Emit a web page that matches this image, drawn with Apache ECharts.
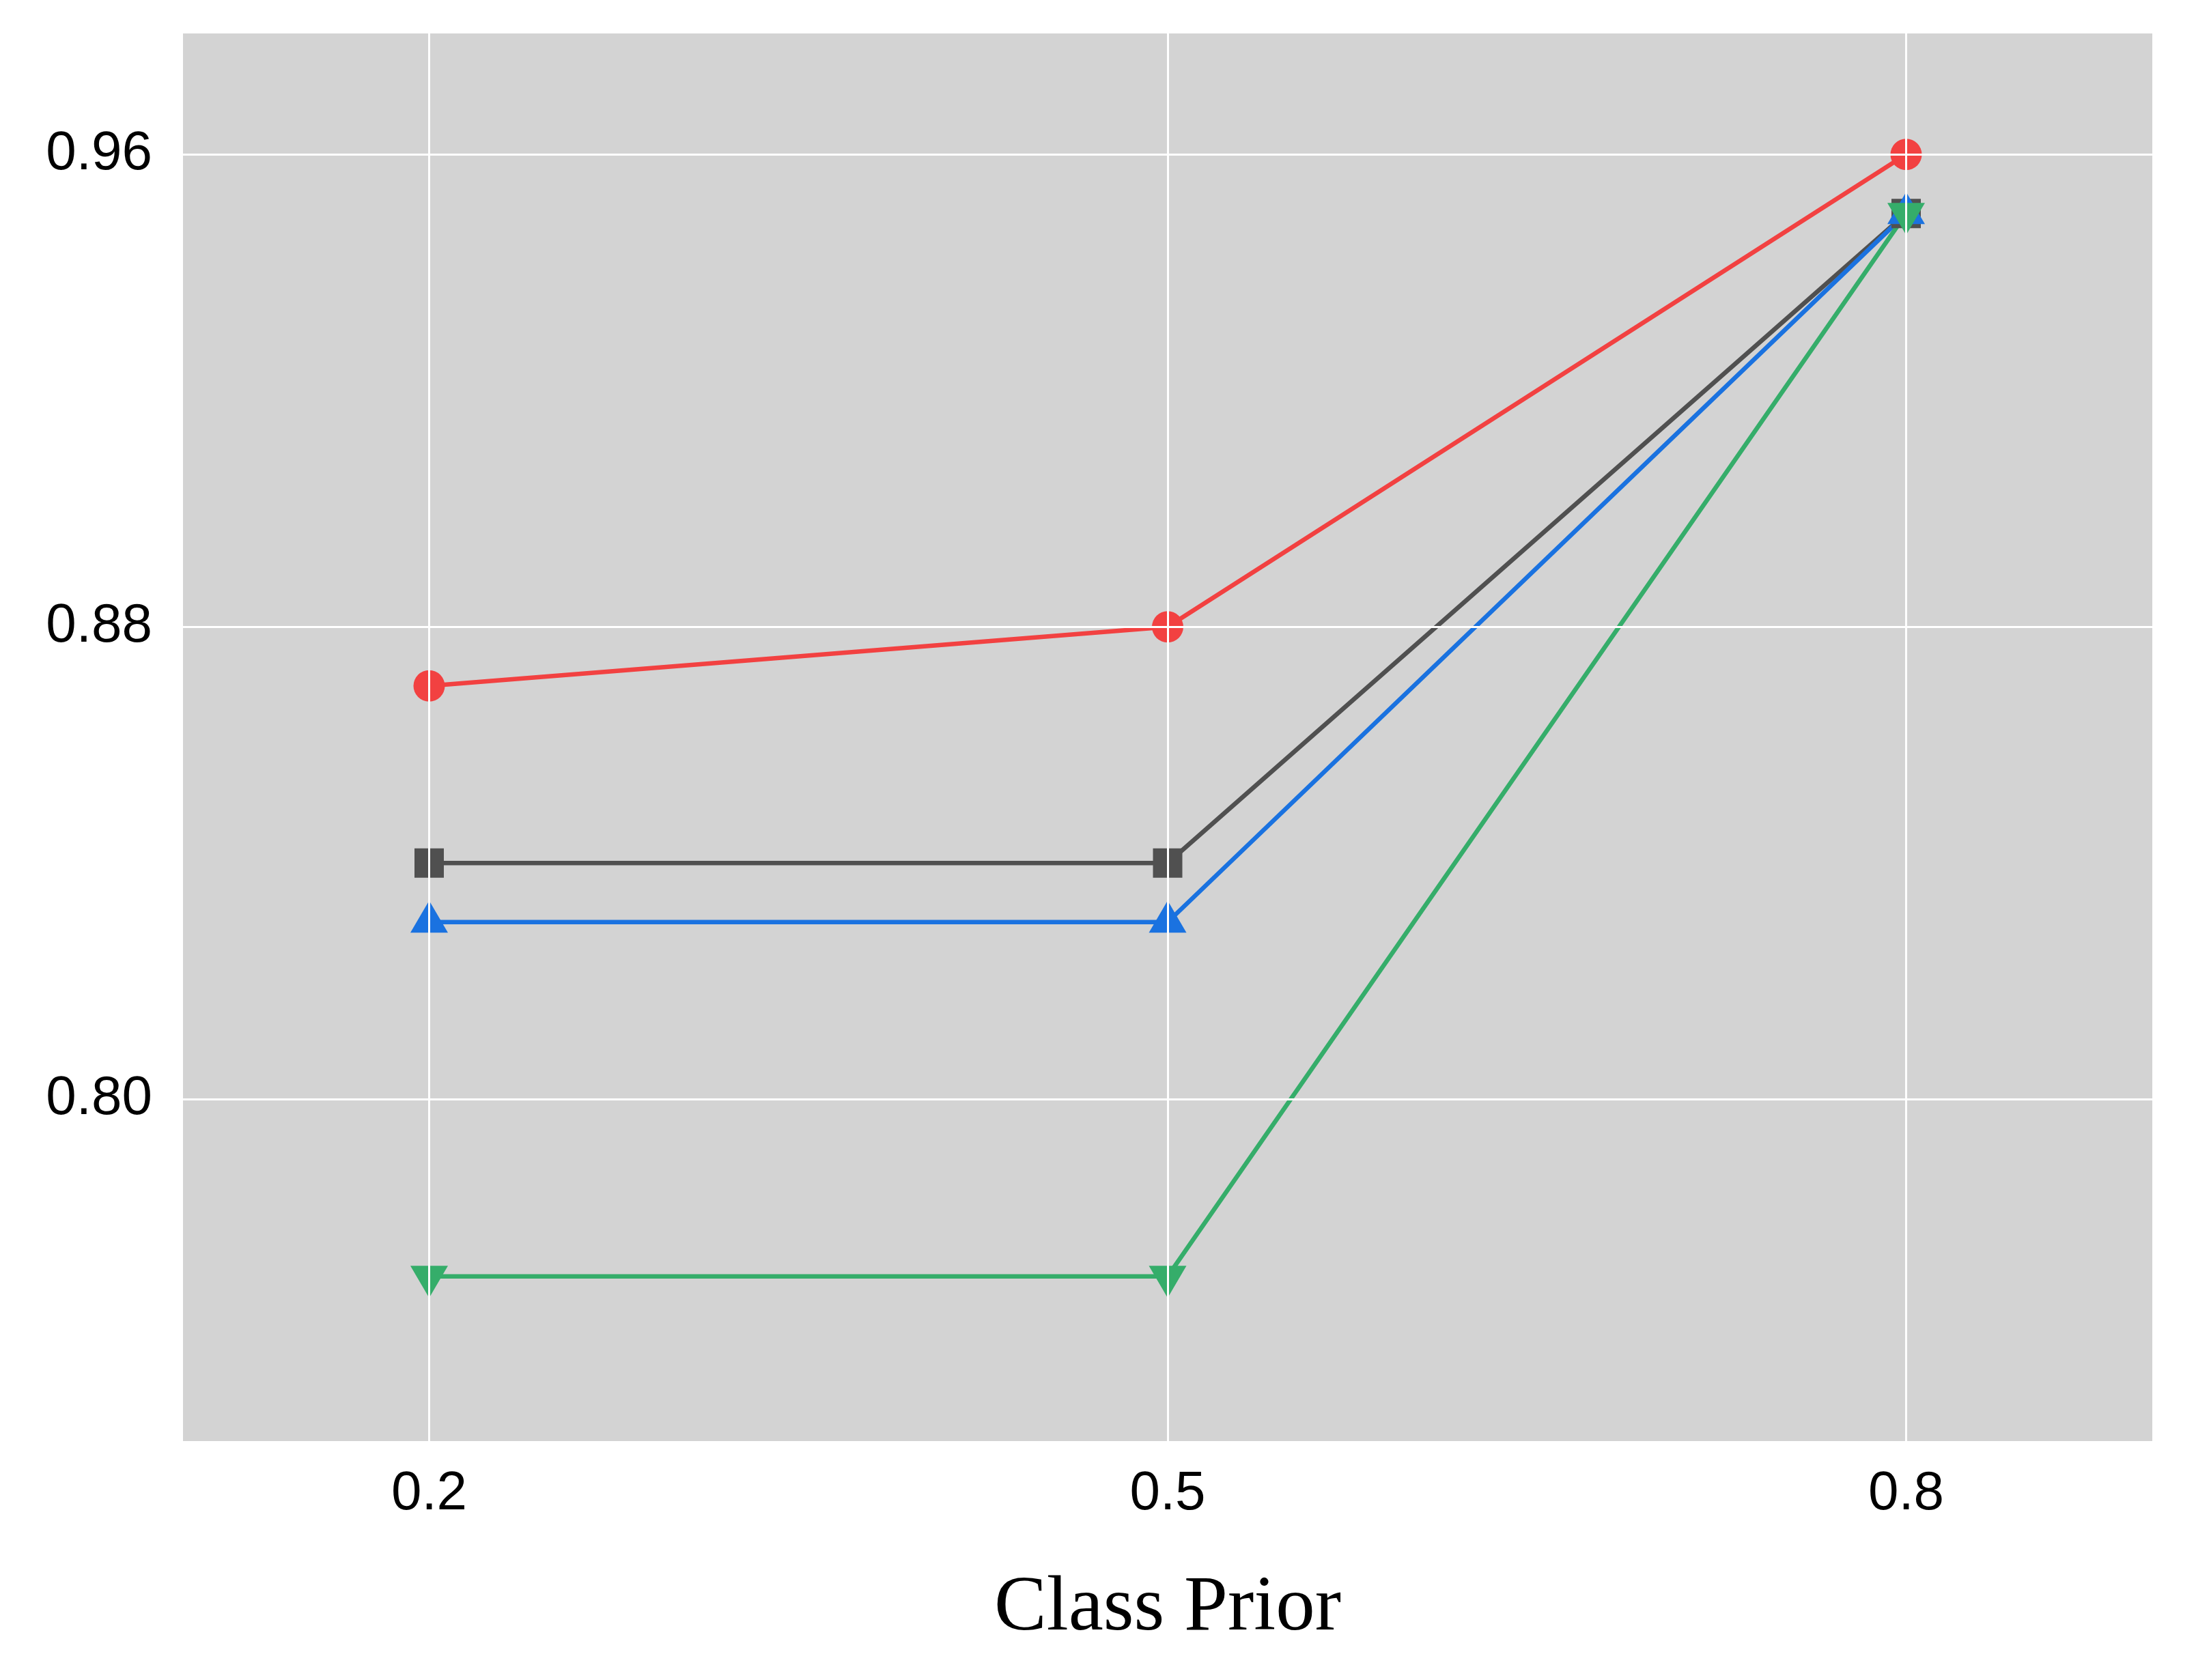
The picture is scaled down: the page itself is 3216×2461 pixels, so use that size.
<!DOCTYPE html>
<html>
<head>
<meta charset="utf-8">
<script src="https://cdn.jsdelivr.net/npm/echarts@6/dist/echarts.min.js"></script>
<style>
html,body{margin:0;padding:0;background:#fff;}
#chart{width:3216px;height:2461px;}
</style>
</head>
<body>
<div id="chart"></div>
<script>
const xValues = [0.2, 0.5, 0.8];
const xTicks = [0.2, 0.5, 0.8];
const yTicks = [0.80, 0.88, 0.96];
const redValues = [0.87, 0.88, 0.96];
const blackValues = [0.84, 0.84, 0.95];
const blueValues = [0.83, 0.83, 0.95];
const greenValues = [0.77, 0.77, 0.95];

const pairs = vals => xValues.map((x, i) => [x, vals[i]]);

const chart = echarts.init(document.getElementById('chart'), null, {renderer: 'canvas'});
const labelFont = {fontFamily: '"Liberation Sans", Arial, sans-serif', fontSize: 80, color: '#000'};

chart.setOption({
  animation: false,
  backgroundColor: '#ffffff',
  grid: {left: 268, right: 64, top: 49, bottom: 350, show: true, backgroundColor: '#D3D3D3', borderWidth: 0, containLabel: false},
  xAxis: {
    type: 'value', min: 0.1, max: 0.9, z: 10,
    axisLine: {show: false},
    axisTick: {show: false, customValues: xTicks},
    axisLabel: Object.assign({customValues: xTicks, margin: 38, formatter: v => v.toFixed(1)}, labelFont),
    splitLine: {show: true, lineStyle: {color: '#ffffff', width: 3}},
    name: 'Class Prior', nameLocation: 'middle', nameGap: 188,
    nameTextStyle: {fontFamily: '"Liberation Serif", "Times New Roman", serif', fontSize: 115, color: '#000'}
  },
  yAxis: {
    type: 'value', min: 0.7421, max: 0.9805, z: 10,
    axisLine: {show: false},
    axisTick: {show: false, customValues: yTicks},
    axisLabel: Object.assign({customValues: yTicks, margin: 45, formatter: v => v.toFixed(2)}, labelFont),
    splitLine: {show: true, lineStyle: {color: '#ffffff', width: 3}}
  },
  series: [
    {type: 'line', data: pairs(redValues), symbol: 'circle', symbolSize: 46,
     lineStyle: {color: '#F24141', width: 6.5}, itemStyle: {color: '#F24141'}},
    {type: 'line', data: pairs(blackValues), symbol: 'rect', symbolSize: 43,
     lineStyle: {color: '#505050', width: 6.5}, itemStyle: {color: '#505050'}},
    {type: 'line', data: pairs(blueValues), symbol: 'triangle', symbolSize: [55, 47], symbolOffset: [0, -8],
     lineStyle: {color: '#1A72E0', width: 6.5}, itemStyle: {color: '#1A72E0'}},
    {type: 'line', data: pairs(greenValues), symbol: 'triangle', symbolSize: [55, 47], symbolRotate: 180, symbolOffset: [0, 8],
     lineStyle: {color: '#35AD6A', width: 6.5}, itemStyle: {color: '#35AD6A'}}
  ]
});
</script>
</body>
</html>
